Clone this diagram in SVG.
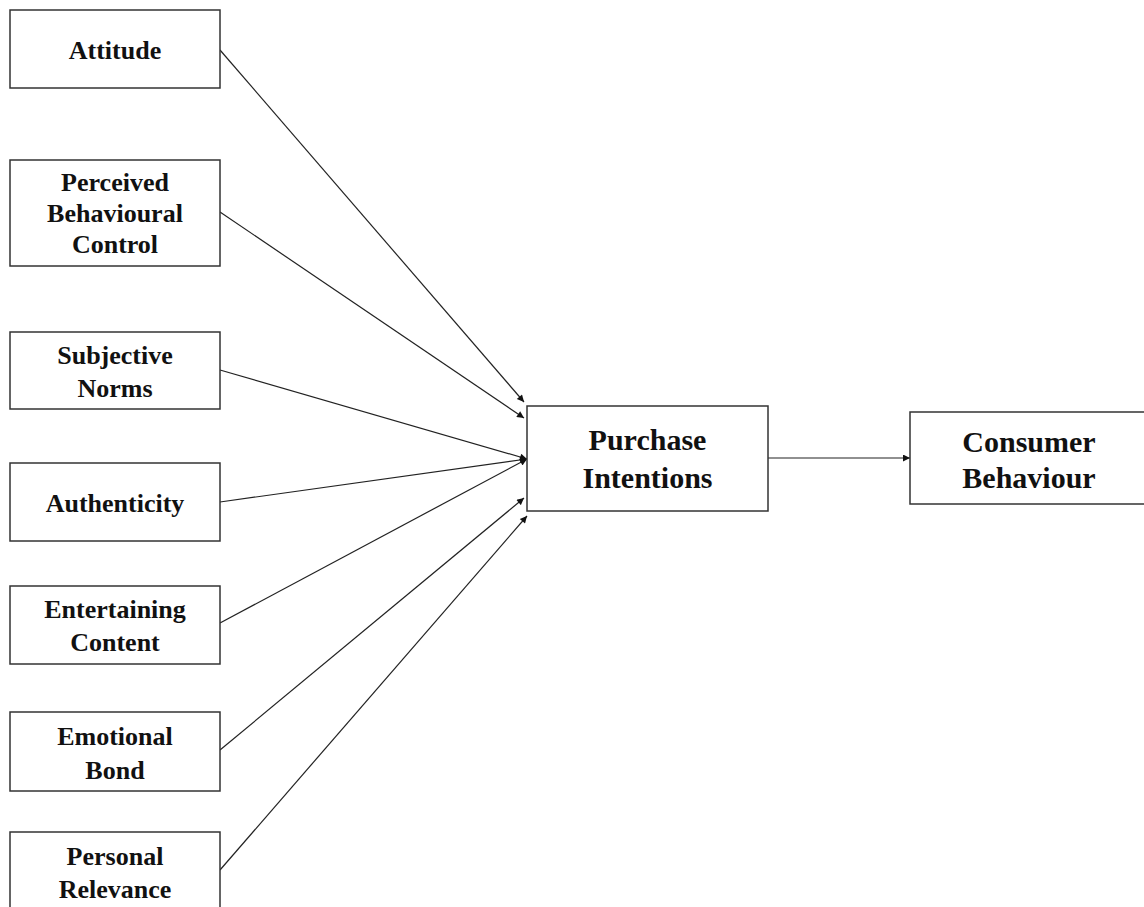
<svg xmlns="http://www.w3.org/2000/svg" width="1144" height="907" viewBox="0 0 1144 907">
<style>
.box{fill:#fff;stroke:#333;stroke-width:1.5}
.t{font-family:"Liberation Serif","Times New Roman",serif;font-weight:bold;fill:#111;text-anchor:middle}
.s{font-size:26px}
.l{font-size:30px}
.c{stroke:#222;stroke-width:1.2;fill:none;marker-end:url(#ah)}
</style>
<defs>
<marker id="ah" viewBox="0 0 10 10" refX="10" refY="5" markerWidth="9" markerHeight="7" markerUnits="userSpaceOnUse" orient="auto">
<path d="M0,0 L10,5 L0,10 z" fill="#111"/>
</marker>
</defs>
<rect width="1144" height="907" fill="#fff"/>
<g id="connectors">
<line class="c" x1="220" y1="50" x2="524" y2="402"/>
<line class="c" x1="220" y1="212" x2="524" y2="418"/>
<line class="c" x1="220" y1="370" x2="527" y2="459"/>
<line class="c" x1="220" y1="502" x2="527" y2="459"/>
<line class="c" x1="220" y1="623" x2="527" y2="459"/>
<line class="c" x1="220" y1="750" x2="524" y2="498"/>
<line class="c" x1="220" y1="870" x2="527" y2="516"/>
<line class="c" x1="768" y1="458" x2="910" y2="458"/>
</g>
<g id="attitude">
<rect class="box" x="10" y="10" width="210" height="78"/>
<text class="t s" x="115" y="59">Attitude</text>
</g>
<g id="pbc">
<rect class="box" x="10" y="160" width="210" height="106"/>
<text class="t s" x="115" y="191">Perceived</text>
<text class="t s" x="115" y="222">Behavioural</text>
<text class="t s" x="115" y="253">Control</text>
</g>
<g id="subjective-norms">
<rect class="box" x="10" y="332" width="210" height="77"/>
<text class="t s" x="115" y="364">Subjective</text>
<text class="t s" x="115" y="397">Norms</text>
</g>
<g id="authenticity">
<rect class="box" x="10" y="463" width="210" height="78"/>
<text class="t s" x="115" y="512">Authenticity</text>
</g>
<g id="entertaining-content">
<rect class="box" x="10" y="586" width="210" height="78"/>
<text class="t s" x="115" y="618">Entertaining</text>
<text class="t s" x="115" y="651">Content</text>
</g>
<g id="emotional-bond">
<rect class="box" x="10" y="712" width="210" height="79"/>
<text class="t s" x="115" y="745">Emotional</text>
<text class="t s" x="115" y="779">Bond</text>
</g>
<g id="personal-relevance">
<rect class="box" x="10" y="832" width="210" height="90"/>
<text class="t s" x="115" y="865">Personal</text>
<text class="t s" x="115" y="898">Relevance</text>
</g>
<g id="purchase-intentions">
<rect class="box" x="527" y="406" width="241" height="105"/>
<text class="t l" x="647.5" y="450">Purchase</text>
<text class="t l" x="647.5" y="488">Intentions</text>
</g>
<g id="consumer-behaviour">
<rect class="box" x="910" y="412" width="240" height="92"/>
<text class="t l" x="1029" y="452">Consumer</text>
<text class="t l" x="1029" y="488">Behaviour</text>
</g>
</svg>
